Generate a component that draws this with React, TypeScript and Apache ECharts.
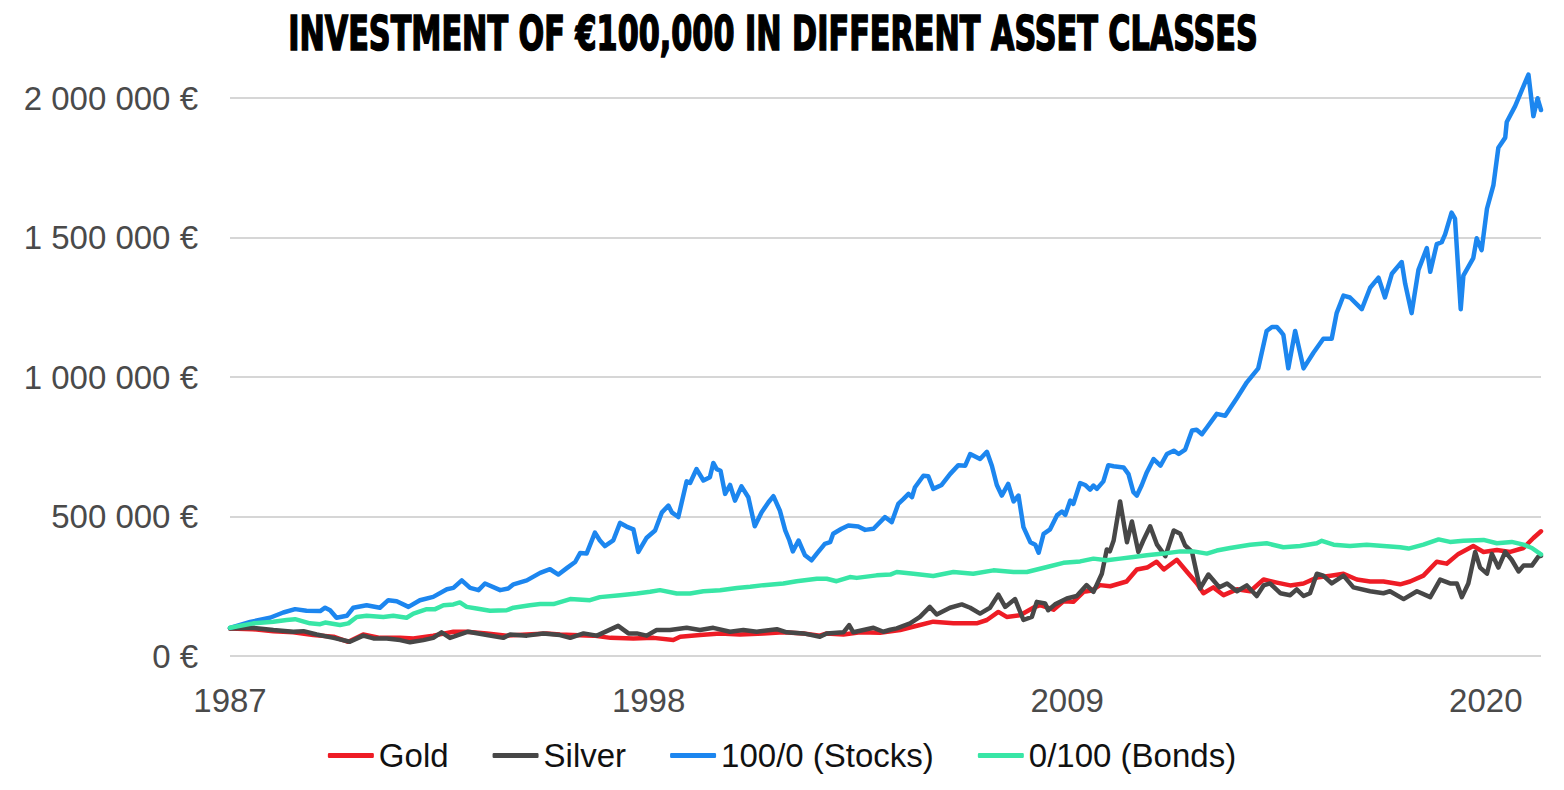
import React, { useEffect, useRef } from "react";
import * as echarts from "echarts";

const TITLE = "INVESTMENT OF €100,000 IN DIFFERENT ASSET CLASSES";
const START_YEAR = 1987;
const X_MAX = 34.45; // years after Jan 1987
const X_LABEL_STEP = 11;
const Y_TICKS = [0, 500000, 1000000, 1500000, 2000000];

const seriesNames = ["Gold", "Silver", "100/0 (Stocks)", "0/100 (Bonds)"];
const seriesColors = ["#ee1c25", "#474747", "#1c86ef", "#38e6a6"];

// [years since Jan 1987, value in thousand €]
const gold: [number, number][] = [
  [0, 99], [0.6, 96], [1.14, 89], [1.66, 85], [2.19, 75], [2.72, 69], [3.11, 51], [3.5, 77], [3.94, 65],
  [4.47, 65], [4.82, 63], [5.34, 73], [5.87, 87], [6.22, 87], [6.75, 81], [7.27, 73], [7.8, 77], [8.32, 81],
  [8.67, 77], [9.0, 75], [9.55, 73], [10.0, 65], [10.6, 63], [11.13, 65], [11.65, 57], [11.83, 69],
  [12.35, 75], [12.88, 81], [13.4, 77], [14.02, 81], [14.54, 85], [15.07, 81], [15.5, 73], [15.68, 81],
  [16.12, 77], [16.56, 85], [17.08, 83], [17.61, 93], [18.13, 111], [18.48, 123], [19.01, 117], [19.62, 117],
  [19.89, 129], [20.19, 158], [20.41, 140], [20.76, 146], [21.11, 173], [21.29, 182], [21.64, 166],
  [21.9, 196], [22.16, 194], [22.43, 230], [22.65, 235], [22.86, 254], [23.13, 250], [23.56, 267],
  [23.83, 310], [24.1, 317], [24.35, 338], [24.54, 310], [24.88, 345], [25.14, 303], [25.41, 260],
  [25.58, 225], [25.84, 246], [26.11, 218], [26.46, 239], [26.81, 232], [27.16, 274], [27.51, 263],
  [27.86, 253], [28.21, 260], [28.56, 281], [28.92, 288], [29.26, 295], [29.61, 274], [29.96, 267],
  [30.31, 267], [30.75, 257], [31.01, 267], [31.36, 288], [31.71, 338], [31.97, 331], [32.28, 366],
  [32.67, 394], [32.94, 373], [33.29, 380], [33.64, 373], [33.99, 387], [34.25, 423], [34.45, 447],
];

const silver: [number, number][] = [
  [0, 99], [0.61, 101], [1.14, 93], [1.66, 87], [1.93, 89], [2.28, 77], [2.72, 65], [3.15, 51], [3.5, 73],
  [3.77, 63], [4.12, 63], [4.47, 57], [4.73, 49], [5.08, 57], [5.34, 65], [5.56, 85], [5.78, 65], [6.26, 87],
  [6.75, 75], [7.18, 65], [7.36, 77], [7.8, 73], [8.23, 81], [8.67, 75], [8.94, 65], [9.29, 81], [9.64, 73],
  [9.9, 89], [10.2, 108], [10.47, 81], [10.69, 81], [10.95, 73], [11.21, 93], [11.56, 93], [12.0, 101],
  [12.35, 93], [12.7, 101], [13.14, 87], [13.49, 93], [13.84, 87], [14.37, 96], [14.63, 85], [15.07, 81],
  [15.5, 69], [15.68, 81], [16.12, 85], [16.27, 111], [16.38, 85], [16.91, 101], [17.17, 87], [17.35, 94],
  [17.52, 99], [17.87, 117], [18.13, 140], [18.39, 176], [18.57, 149], [18.92, 173], [19.23, 185],
  [19.45, 173], [19.71, 152], [19.97, 173], [20.19, 220], [20.37, 176], [20.63, 204], [20.85, 129],
  [21.07, 140], [21.2, 194], [21.42, 188], [21.5, 164], [21.68, 185], [21.99, 206], [22.25, 215],
  [22.51, 254], [22.69, 230], [22.91, 295], [23.04, 382], [23.12, 375], [23.22, 414], [23.39, 554],
  [23.57, 408], [23.7, 482], [23.87, 373], [24.0, 414], [24.18, 465], [24.36, 399], [24.58, 358],
  [24.8, 450], [24.97, 438], [25.1, 396], [25.28, 373], [25.49, 242], [25.71, 292], [26.0, 246],
  [26.2, 260], [26.46, 232], [26.72, 253], [26.98, 215], [27.16, 253], [27.33, 260], [27.6, 225],
  [27.86, 218], [28.03, 239], [28.21, 215], [28.38, 225], [28.56, 295], [28.73, 288], [28.95, 260],
  [29.26, 288], [29.52, 246], [29.96, 232], [30.31, 225], [30.48, 232], [30.84, 204], [31.19, 232],
  [31.54, 211], [31.8, 274], [32.06, 260], [32.24, 260], [32.37, 211], [32.54, 260], [32.72, 373],
  [32.85, 317], [33.03, 295], [33.16, 366], [33.33, 317], [33.51, 373], [33.68, 345], [33.86, 303],
  [33.99, 324], [34.21, 324], [34.38, 356], [34.45, 359],
];

const stocks: [number, number][] = [
  [0, 101], [0.53, 122], [1.05, 137], [1.4, 156], [1.71, 168], [2.01, 162], [2.37, 161], [2.5, 173],
  [2.63, 164], [2.8, 137], [3.07, 144], [3.24, 173], [3.59, 182], [3.94, 173], [4.16, 200], [4.38, 196],
  [4.69, 176], [4.99, 200], [5.34, 212], [5.7, 239], [5.87, 244], [6.09, 271], [6.31, 244], [6.53, 236],
  [6.7, 260], [7.1, 236], [7.31, 242], [7.45, 257], [7.8, 271], [8.15, 298], [8.41, 311], [8.63, 292],
  [8.85, 315], [9.07, 337], [9.2, 369], [9.37, 367], [9.59, 442], [9.72, 414], [9.85, 394], [10.07, 414],
  [10.25, 477], [10.42, 464], [10.6, 454], [10.73, 373], [10.95, 424], [11.17, 450], [11.35, 515],
  [11.52, 539], [11.61, 515], [11.78, 498], [12.0, 626], [12.09, 620], [12.26, 670], [12.44, 629],
  [12.61, 641], [12.7, 692], [12.79, 670], [12.89, 664], [13.01, 581], [13.14, 613], [13.27, 557],
  [13.44, 608], [13.62, 569], [13.79, 465], [13.97, 515], [14.15, 551], [14.28, 573], [14.45, 521],
  [14.59, 450], [14.7, 414], [14.79, 375], [14.94, 414], [15.11, 361], [15.28, 343], [15.42, 367],
  [15.63, 402], [15.77, 408], [15.85, 438], [16.07, 456], [16.25, 468], [16.51, 464], [16.69, 452],
  [16.91, 456], [17.21, 498], [17.39, 480], [17.56, 545], [17.7, 563], [17.83, 581], [17.92, 569],
  [18.0, 605], [18.22, 646], [18.35, 644], [18.48, 599], [18.7, 613], [18.92, 652], [19.14, 684],
  [19.32, 682], [19.45, 724], [19.71, 706], [19.89, 732], [20.02, 682], [20.15, 613], [20.28, 575],
  [20.45, 617], [20.59, 554], [20.72, 575], [20.85, 462], [21.03, 408], [21.16, 399], [21.25, 370],
  [21.38, 438], [21.55, 454], [21.73, 504], [21.86, 518], [21.95, 506], [22.08, 557], [22.16, 545],
  [22.34, 620], [22.47, 613], [22.6, 596], [22.69, 611], [22.78, 599], [22.95, 626], [23.08, 684],
  [23.22, 680], [23.48, 676], [23.61, 652], [23.74, 587], [23.83, 575], [23.96, 613], [24.09, 658],
  [24.27, 706], [24.45, 682], [24.62, 724], [24.8, 736], [24.93, 724], [25.1, 740], [25.28, 808],
  [25.4, 811], [25.54, 795], [25.67, 819], [25.93, 868], [26.15, 861], [26.46, 925], [26.72, 981],
  [27.02, 1031], [27.24, 1165], [27.38, 1179], [27.51, 1179], [27.6, 1165], [27.68, 1151], [27.81, 1031],
  [27.99, 1165], [28.21, 1031], [28.47, 1087], [28.73, 1137], [28.95, 1137], [29.08, 1229], [29.26, 1292],
  [29.43, 1285], [29.74, 1243], [29.96, 1320], [30.18, 1356], [30.35, 1285], [30.53, 1370], [30.79, 1412],
  [30.88, 1335], [31.05, 1229], [31.23, 1384], [31.45, 1462], [31.54, 1377], [31.71, 1476], [31.84, 1483],
  [31.93, 1511], [32.1, 1589], [32.19, 1568], [32.34, 1243], [32.41, 1363], [32.67, 1426], [32.76, 1497],
  [32.89, 1455], [33.03, 1603], [33.2, 1688], [33.33, 1822], [33.51, 1858], [33.55, 1914], [33.77, 1971],
  [33.9, 2013], [34.12, 2084], [34.25, 1935], [34.36, 1999], [34.45, 1957],
];

const bonds: [number, number][] = [
  [0, 101], [0.61, 117], [1.14, 123], [1.49, 129], [1.71, 132], [2.1, 117], [2.37, 114], [2.5, 120],
  [2.89, 111], [3.11, 117], [3.33, 140], [3.59, 144], [4.03, 140], [4.29, 144], [4.64, 137], [4.82, 152],
  [5.17, 168], [5.39, 168], [5.61, 182], [5.87, 185], [6.04, 192], [6.22, 176], [6.48, 170], [6.83, 162],
  [7.27, 164], [7.45, 173], [7.88, 182], [8.15, 186], [8.5, 186], [8.94, 204], [9.46, 200], [9.72, 211],
  [10.25, 218], [10.69, 224], [11.04, 230], [11.3, 236], [11.74, 224], [12.09, 224], [12.44, 232],
  [12.88, 236], [13.32, 244], [13.67, 248], [14.02, 254], [14.54, 260], [14.89, 268], [15.42, 277],
  [15.68, 277], [15.94, 268], [16.29, 283], [16.47, 280], [16.99, 289], [17.35, 292], [17.52, 301],
  [17.96, 295], [18.48, 287], [19.01, 301], [19.53, 295], [20.06, 307], [20.59, 301], [20.94, 301],
  [21.47, 319], [21.9, 334], [22.34, 339], [22.69, 349], [23.04, 343], [23.39, 349], [23.74, 355],
  [24.09, 361], [24.53, 367], [24.97, 375], [25.32, 375], [25.67, 367], [25.93, 378], [26.28, 387],
  [26.81, 399], [27.24, 404], [27.68, 390], [28.12, 394], [28.56, 404], [28.69, 413], [29.0, 399],
  [29.43, 394], [29.87, 399], [30.31, 394], [30.75, 390], [30.97, 385], [31.36, 399], [31.76, 418],
  [32.06, 409], [32.41, 413], [32.94, 416], [33.29, 404], [33.68, 409], [33.99, 399], [34.21, 387],
  [34.45, 364],
];

const allSeries = [gold, silver, stocks, bonds];

function formatEuro(v: number): string {
  const s = String(Math.round(v)).replace(/\B(?=(\d{3})+(?!\d))/g, " ");
  return s + " €";
}

export default function App() {
  const ref = useRef<HTMLDivElement>(null);

  useEffect(() => {
    document.body.style.margin = "0";
    if (!ref.current) return;
    const chart = echarts.init(ref.current, null, { renderer: "svg" });

    const titleFontSize = 48;
    const titleFamily = "'DejaVu Sans Condensed', 'DejaVu Sans', sans-serif";
    let scaleX = 0.75;
    try {
      const c = document.createElement("canvas").getContext("2d");
      if (c) {
        c.font = `bold ${titleFontSize}px ${titleFamily}`;
        const w = c.measureText(TITLE).width;
        if (w > 0) scaleX = 970 / w;
      }
    } catch (e) {}

    chart.setOption({
      animation: false,
      backgroundColor: "#ffffff",
      grid: { left: 230, right: 23, top: 98, bottom: 134, containLabel: false },
      graphic: [
        {
          type: "text",
          x: 773,
          y: 34,
          scaleX,
          scaleY: 1,
          style: {
            text: TITLE,
            fontSize: titleFontSize,
            fontWeight: "bold",
            fontFamily: titleFamily,
            fill: "#000000",
            stroke: "#000000",
            lineWidth: 1.6,
            textAlign: "center",
            textVerticalAlign: "middle",
          },
        },
      ],
      legend: {
        bottom: 13,
        left: "center",
        itemWidth: 46,
        itemHeight: 5,
        itemGap: 44,
        icon: "roundRect",
        textStyle: { fontSize: 33, color: "#111111", fontFamily: "'Liberation Sans', Arial, sans-serif" },
        data: seriesNames,
      },
      xAxis: {
        type: "value",
        min: 0,
        max: X_MAX,
        interval: X_LABEL_STEP,
        axisLine: { show: false },
        axisTick: { show: false },
        splitLine: { show: false },
        axisLabel: {
          margin: 28,
          fontSize: 33,
          color: "#4a4a4a",
          fontFamily: "'Liberation Sans', Arial, sans-serif",
          formatter: (v: number) =>
            Math.abs(v % X_LABEL_STEP) < 1e-6 ? String(START_YEAR + Math.round(v)) : "",
        },
      },
      yAxis: {
        type: "value",
        min: Y_TICKS[0],
        max: Y_TICKS[Y_TICKS.length - 1],
        interval: Y_TICKS[1] - Y_TICKS[0],
        axisLine: { show: false },
        axisTick: { show: false },
        splitLine: { show: true, lineStyle: { color: "#d6d6d6", width: 2 } },
        axisLabel: {
          margin: 32,
          fontSize: 33,
          color: "#4a4a4a",
          fontFamily: "'Liberation Sans', Arial, sans-serif",
          formatter: (v: number) => formatEuro(v),
        },
      },
      series: allSeries.map((d, i) => ({
        name: seriesNames[i],
        type: "line",
        data: d.map(([t, v]) => [t, v * 1000]),
        showSymbol: false,
        symbol: "none",
        clip: false,
        color: seriesColors[i],
        lineStyle: { width: 4.5, color: seriesColors[i], join: "round", cap: "round" },
        z: 2 + i,
      })),
    });

    return () => chart.dispose();
  }, []);

  return <div ref={ref} style={{ width: 1564, height: 790 }} />;
}
